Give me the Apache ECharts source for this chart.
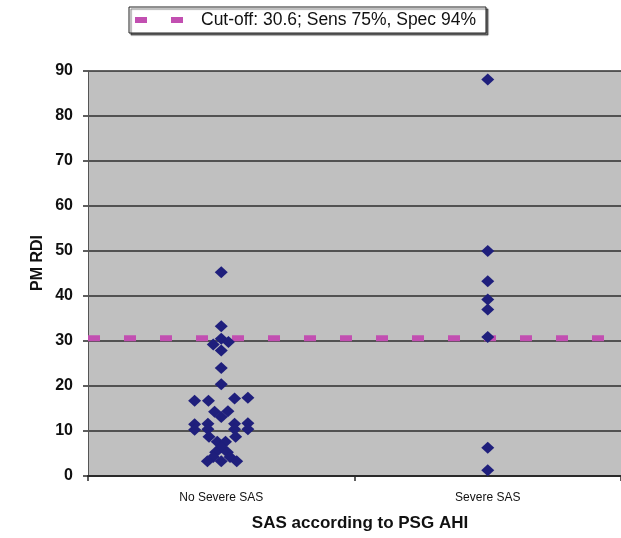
<!DOCTYPE html>
<html>
<head>
<meta charset="utf-8">
<script src="https://cdn.jsdelivr.net/npm/echarts@6/dist/echarts.min.js"></script>
<style>
  html, body { margin: 0; padding: 0; background: #ffffff; }
  #chart { width: 621px; height: 538px; }
</style>
</head>
<body>
<div id="chart"></div>
<script>
// Groups along the x axis
const categories = ['No Severe SAS', 'Severe SAS'];

// PM RDI per subject, group without severe SAS
const noSevereValues = [
  45.3, 33.3, 30.5, 29.2, 29.8, 27.9, 24.0, 20.4,
  16.7, 16.7, 17.2, 17.4,
  14.3, 13.1, 14.4,
  11.5, 10.3, 11.6, 10.4, 11.6, 10.4, 11.7, 10.4,
  8.7, 8.7, 7.6, 7.6, 6.4, 5.3, 5.3, 4.2, 4.2,
  3.3, 3.3, 3.3
];
// horizontal spread of the markers that share similar values (category units)
const noSevereSpread = [
  0, 0, 0, -0.03, 0.027, 0, 0, 0,
  -0.1, -0.048, 0.05, 0.1,
  -0.025, 0, 0.025,
  -0.1, -0.1, -0.05, -0.05, 0.05, 0.05, 0.1, 0.1,
  -0.046, 0.054, -0.015, 0.016, 0, -0.021, 0.023, -0.03, 0.033,
  -0.052, 0, 0.058
];

// PM RDI per subject, group with severe SAS
const severeValues = [88.1, 50.0, 43.3, 39.2, 37.0, 30.9, 6.3, 1.3];
const severeSpread = [0, 0, 0, 0, 0, 0, 0, 0];

// Cut-off line and its legend entry
const cutOff = 30.6;
const cutOffLabel = 'Cut-off: 30.6; Sens 75%, Spec 94%';

// Value axis ticks
const yMin = 0;
const yMax = 90;
const yStep = 10;

const axisTitleX = 'SAS according to PSG AHI';
const axisTitleY = 'PM RDI';

const FONT = '"Liberation Sans", Arial, Helvetica, sans-serif';
const NARROW = '"Liberation Sans Narrow", "Arial Narrow", "Liberation Sans", sans-serif';
const MARKER = '#1f1f7c';
const CUT_COLOR = '#c24fb1';

function groupPoints(groupIndex, values, spread) {
  return values.map((v, i) => [groupIndex + 0.5 + spread[i], v]);
}

const chart = echarts.init(document.getElementById('chart'), null, { renderer: 'canvas' });

chart.setOption({
  animation: false,
  backgroundColor: '#ffffff',
  textStyle: { fontFamily: FONT },
  grid: {
    left: 88, right: -2, top: 71, bottom: 62,
    show: true, backgroundColor: '#c0c0c0', borderWidth: 0
  },
  legend: {
    data: [cutOffLabel],
    left: 129, top: 7,
    padding: [3, 10, 3, 6],
    itemWidth: 48, itemHeight: 6,
    icon: 'path://M0,0h12v6h-12z M36,0h12v6h-12z',
    itemStyle: { color: CUT_COLOR, borderWidth: 0 },
    lineStyle: { width: 0 },
    textStyle: { fontFamily: FONT, fontSize: 17.5, color: '#111', padding: [0, 0, 0, 13], lineHeight: 20 },
    backgroundColor: '#ffffff',
    borderColor: '#222', borderWidth: 1,
    shadowColor: 'rgba(0,0,0,0.55)', shadowOffsetX: 2, shadowOffsetY: 2, shadowBlur: 1,
    selectedMode: false
  },
  xAxis: [
    {
      type: 'category',
      data: categories,
      boundaryGap: true,
      axisLine: { show: true, lineStyle: { color: '#2a2a2a', width: 2 } },
      axisTick: { show: true, length: 5, lineStyle: { color: '#2a2a2a', width: 1.5 } },
      axisLabel: { fontFamily: FONT, fontSize: 12, color: '#111', margin: 16 },
      splitLine: { show: false }
    },
    {
      type: 'value', min: 0, max: 2, show: false
    }
  ],
  yAxis: {
    type: 'value',
    min: yMin, max: yMax, interval: yStep,
    axisLine: { show: true, lineStyle: { color: '#555', width: 1 } },
    axisTick: { show: true, length: 5, lineStyle: { color: '#2a2a2a', width: 1.5 } },
    axisLabel: { fontFamily: FONT, fontSize: 16, fontWeight: 'bold', color: '#111', margin: 15 },
    splitLine: { show: true, lineStyle: { color: '#2e2e2e', width: 1.5 } }
  },
  graphic: [
    {
      type: 'text', x: 38, y: 263, rotation: Math.PI / 2,
      style: {
        text: axisTitleY, fontFamily: NARROW, fontSize: 16, fontWeight: 'bold',
        fill: '#111', textAlign: 'center', textVerticalAlign: 'middle'
      }
    },
    {
      type: 'text', x: 360, y: 523,
      style: {
        text: axisTitleX, fontFamily: FONT, fontSize: 17, fontWeight: 'bold',
        fill: '#111', textAlign: 'center', textVerticalAlign: 'middle'
      }
    }
  ],
  series: [
    {
      name: cutOffLabel,
      type: 'line',
      xAxisIndex: 1,
      color: CUT_COLOR,
      data: [[0, cutOff], [2, cutOff]],
      symbol: 'none',
      silent: true,
      z: 2,
      lineStyle: { color: CUT_COLOR, width: 6, type: [12, 24], cap: 'butt' }
    },
    {
      name: categories[0],
      type: 'scatter',
      xAxisIndex: 1,
      data: groupPoints(0, noSevereValues, noSevereSpread),
      symbol: 'diamond',
      symbolSize: [13, 12],
      itemStyle: { color: MARKER, opacity: 1 },
      z: 3
    },
    {
      name: categories[1],
      type: 'scatter',
      xAxisIndex: 1,
      data: groupPoints(1, severeValues, severeSpread),
      symbol: 'diamond',
      symbolSize: [13, 12],
      itemStyle: { color: MARKER, opacity: 1 },
      z: 3
    }
  ]
});
</script>
</body>
</html>
